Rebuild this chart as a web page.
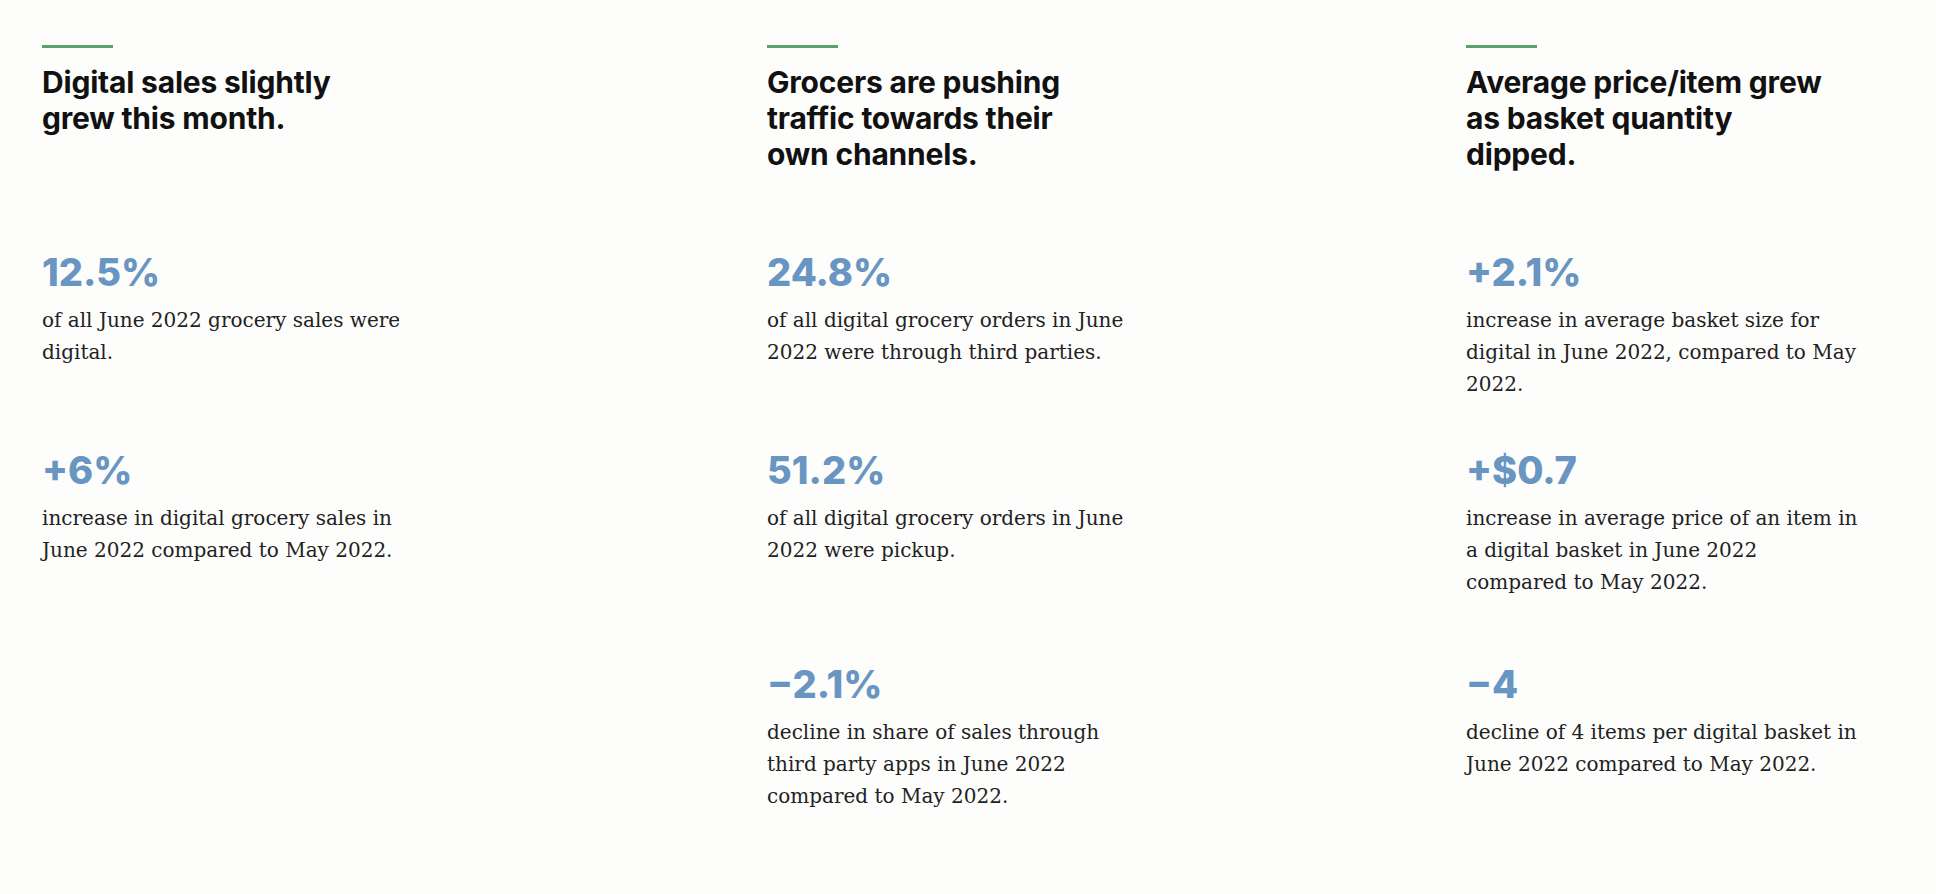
<!DOCTYPE html>
<html><head><meta charset="utf-8">
<script src="https://cdn.jsdelivr.net/npm/chart.js@4/dist/chart.umd.min.js"></script>
<style>
  html,body{margin:0;width:1936px;height:894px;background:#fdfdfc;overflow:hidden}
  .col{position:absolute;top:0}
  .rule{position:absolute;top:45px;width:71px;height:3px;background:#5aa46c}
  .title{position:absolute;top:64px;font-family:Inter,"Open Sans",sans-serif;font-weight:700;font-size:30px;line-height:36px;color:#111;letter-spacing:-0.2px;white-space:nowrap}
  .num{position:absolute;font-family:Inter,"Open Sans",sans-serif;font-weight:800;font-size:38px;line-height:44px;color:#6895c1;white-space:nowrap}
  .txt{position:absolute;font-family:"DejaVu Serif",serif;font-size:20px;line-height:32px;color:#222;white-space:nowrap}
</style></head>
<body>
<div id="root"></div>
<script>
// ── Column positions & row tops ──
const columnX = [42, 767, 1466];
const rowTops = [250, 448, 662];

const titles = [
  ['Digital sales slightly', 'grew this month.'],
  ['Grocers are pushing', 'traffic towards their', 'own channels.'],
  ['Average price/item grew', 'as basket quantity', 'dipped.']
];

const statValues = [
  ['12.5%', '+6%'],
  ['24.8%', '51.2%', '\u22122.1%'],
  ['+2.1%', '+$0.7', '\u22124']
];

const statTexts = [
  [['of all June 2022 grocery sales were', 'digital.'],
   ['increase in digital grocery sales in', 'June 2022 compared to May 2022.']],
  [['of all digital grocery orders in June', '2022 were through third parties.'],
   ['of all digital grocery orders in June', '2022 were pickup.'],
   ['decline in share of sales through', 'third party apps in June 2022', 'compared to May 2022.']],
  [['increase in average basket size for', 'digital in June 2022, compared to May', '2022.'],
   ['increase in average price of an item in', 'a digital basket in June 2022', 'compared to May 2022.'],
   ['decline of 4 items per digital basket in', 'June 2022 compared to May 2022.']]
];

const root = document.getElementById('root');
function el(cls, left, top, html) {
  const d = document.createElement('div');
  d.className = cls;
  d.style.left = left + 'px';
  if (top !== null) d.style.top = top + 'px';
  d.innerHTML = html;
  root.appendChild(d);
}

columnX.forEach((x, c) => {
  el('rule', x, null, '');
  el('title', x, null, titles[c].join('<br>'));
  statValues[c].forEach((v, r) => {
    el('num', x, rowTops[r], v);
    el('txt', x, rowTops[r] + 54, statTexts[c][r].join('<br>'));
  });
});
</script>
</body></html>
